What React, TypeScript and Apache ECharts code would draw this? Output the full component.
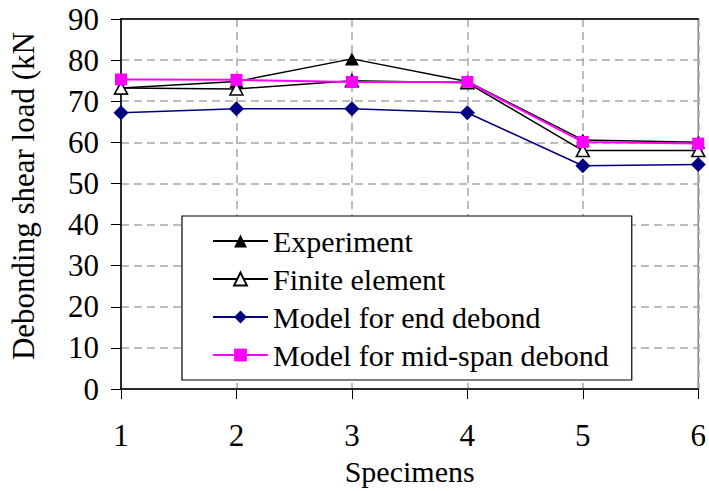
import React, { useEffect, useRef } from "react";
import * as echarts from "echarts";

const categories = ["1", "2", "3", "4", "5", "6"];
const experiment = [73.2, 74.8, 80.3, 74.8, 60.6, 60.0];
const finiteElement = [73.2, 73.0, 75.0, 74.5, 58.0, 58.0];
const endDebond = [67.2, 68.2, 68.2, 67.2, 54.3, 54.6];
const midSpan = [75.3, 75.2, 74.7, 74.7, 60.1, 59.7];
const yTicks = { min: 0, max: 90, interval: 10 };

const FONT = "Liberation Serif";

export default function App() {
  const ref = useRef<HTMLDivElement>(null);
  useEffect(() => {
    document.body.style.margin = "0";
    if (!ref.current) return;
    const chart = echarts.init(ref.current, undefined, { renderer: "svg" });
    const dash = { color: "#a6a6a6", width: 1.5, type: [8, 5] as number[] };
    chart.setOption({
      animation: false,
      grid: {
        left: 118,
        right: 9,
        top: 19,
        bottom: 99,
        show: true,
        borderColor: "#808080",
        borderWidth: 1.5,
        backgroundColor: "transparent",
      },
      legend: {
        orient: "vertical",
        left: 182,
        top: 216,
        padding: [10, 23, 10, 30],
        itemGap: 8,
        itemWidth: 55,
        itemHeight: 16,
        itemTextGap: 8,
        backgroundColor: "#fff",
        borderColor: "#000",
        borderWidth: 1.2,
        borderRadius: 0,
        textStyle: { fontFamily: FONT, fontSize: 30, color: "#000", lineHeight: 28.5 },
        data: ["Experiment", "Finite element", "Model for end debond", "Model for mid-span debond"],
      },
      xAxis: [
        {
          type: "category",
          data: categories,
          boundaryGap: false,
          name: "Specimens",
          nameLocation: "middle",
          nameGap: 56,
          nameTextStyle: { fontFamily: FONT, fontSize: 30, color: "#000" },
          axisLine: { lineStyle: { color: "#000", width: 1.5 } },
          axisTick: { show: true, length: 10, inside: false, lineStyle: { color: "#000", width: 1 } },
          axisLabel: { margin: 31, fontFamily: FONT, fontSize: 31, color: "#000" },
          splitLine: { show: true, lineStyle: dash },
        },
        {
          type: "category",
          data: categories,
          boundaryGap: false,
          position: "top",
          axisLine: { lineStyle: { color: "#000", width: 1.5 } },
          axisTick: { show: false },
          axisLabel: { show: false },
          splitLine: { show: false },
        },
      ],
      yAxis: {
        type: "value",
        min: yTicks.min,
        max: yTicks.max,
        interval: yTicks.interval,
        name: "Debonding shear load (kN",
        nameLocation: "middle",
        nameGap: 82,
        nameTextStyle: { fontFamily: FONT, fontSize: 31, color: "#000", padding: [0, 0, 0, 16] },
        axisLine: { show: true, lineStyle: { color: "#000", width: 1.5 } },
        axisTick: { show: true, length: 10, inside: false, lineStyle: { color: "#000", width: 1 } },
        axisLabel: { margin: 22, fontFamily: FONT, fontSize: 31, color: "#000" },
        splitLine: { show: true, lineStyle: dash },
      },
      series: [
        {
          name: "Experiment",
          type: "line",
          data: experiment,
          symbol: "triangle",
          symbolSize: [14, 13],
          lineStyle: { color: "#000", width: 1.5 },
          itemStyle: { color: "#000" },
        },
        {
          name: "Finite element",
          type: "line",
          data: finiteElement,
          symbol: "triangle",
          symbolSize: [13, 12],
          lineStyle: { color: "#000", width: 1.5 },
          itemStyle: { color: "#fff", borderColor: "#000", borderWidth: 1.5 },
        },
        {
          name: "Model for end debond",
          type: "line",
          data: endDebond,
          symbol: "diamond",
          symbolSize: [15, 15],
          lineStyle: { color: "#000080", width: 1.5 },
          itemStyle: { color: "#000080" },
        },
        {
          name: "Model for mid-span debond",
          type: "line",
          data: midSpan,
          symbol: "rect",
          symbolSize: [12, 12],
          lineStyle: { color: "#ff00ff", width: 2 },
          itemStyle: { color: "#ff00ff" },
        },
      ],
    });
    return () => chart.dispose();
  }, []);
  return (
    <>
      <style>{`#root svg text { font-family: "Liberation Serif", "Times New Roman", serif !important; }`}</style>
      <div ref={ref} style={{ width: 709, height: 491 }} />
    </>
  );
}
